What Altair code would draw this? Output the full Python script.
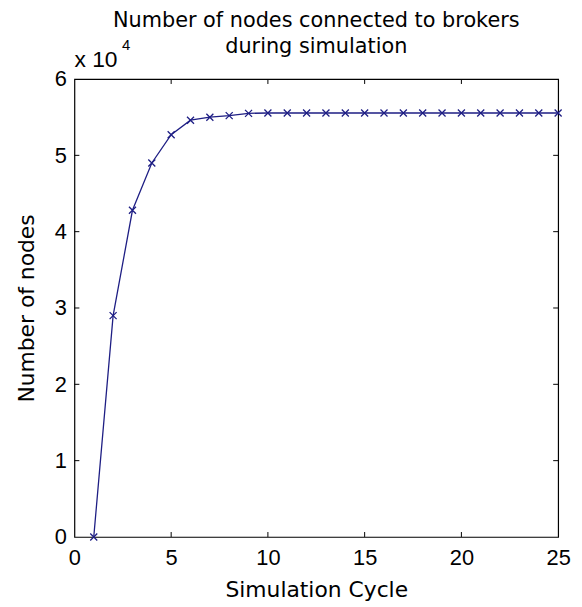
import altair as alt
import pandas as pd

cycles = list(range(1, 26))
nodes = [0, 29000, 42800, 49000, 52700, 54600, 55000, 55200, 55500, 55550,
         55550, 55550, 55550, 55550, 55550, 55550, 55550, 55550, 55550, 55550,
         55550, 55550, 55550, 55550, 55550]
x_ticks = [0, 5, 10, 15, 20, 25]
y_ticks = [0, 10000, 20000, 30000, 40000, 50000, 60000]
x_inner = [5, 10, 15, 20]
y_inner = [10000, 20000, 30000, 40000, 50000]

W, H = 488, 462
FONT = "Liberation Sans"
TFONT = "DejaVu Sans"
LINE = "#1e1e84"

df = pd.DataFrame({"cycle": cycles, "nodes": nodes})
xs = alt.Scale(domain=[0, 25], nice=False, zero=False)
ys = alt.Scale(domain=[0, 60000], nice=False)

xaxis = alt.Axis(values=x_ticks, ticks=False, domain=False, grid=False,
                 labelFont=FONT, labelFontSize=22, labelColor="black",
                 labelPadding=11, labelFlush=False,
                 title="Simulation Cycle", titleFont=TFONT, titleFontSize=22,
                 titleFontWeight="normal", titleColor="black",
                 titleX=W / 2, titleY=60, titleBaseline="alphabetic")
yaxis = alt.Axis(values=y_ticks, ticks=False, domain=False, grid=False,
                 labelExpr="datum.value / 10000",
                 labelFont=FONT, labelFontSize=22, labelColor="black",
                 labelPadding=8, labelFlush=False,
                 title="Number of nodes", titleFont=TFONT, titleFontSize=22,
                 titleFontWeight="normal", titleColor="black",
                 titleAngle=-90, titleX=-48, titleY=H / 2,
                 titleBaseline="middle", titleAlign="center")

line = alt.Chart(df).mark_line(color=LINE, strokeWidth=1.3).encode(
    x=alt.X("cycle:Q", scale=xs, axis=xaxis),
    y=alt.Y("nodes:Q", scale=ys, axis=yaxis),
)
pts = alt.Chart(df).mark_point(
    shape="M-1,-1L1,1M-1,1L1,-1", filled=False, color=LINE,
    strokeWidth=1.3, size=50, opacity=1
).encode(x=alt.X("cycle:Q", scale=xs), y=alt.Y("nodes:Q", scale=ys))

xt = pd.DataFrame({"v": x_inner})
yt = pd.DataFrame({"v": y_inner})
tb = alt.Chart(xt).mark_rule(color="black", strokeWidth=1).encode(
    x=alt.X("v:Q", scale=xs), y=alt.value(H), y2=alt.value(H - 5))
tt = alt.Chart(xt).mark_rule(color="black", strokeWidth=1).encode(
    x=alt.X("v:Q", scale=xs), y=alt.value(0), y2=alt.value(5))
tl = alt.Chart(yt).mark_rule(color="black", strokeWidth=1).encode(
    y=alt.Y("v:Q", scale=ys), x=alt.value(0), x2=alt.value(5))
tr = alt.Chart(yt).mark_rule(color="black", strokeWidth=1).encode(
    y=alt.Y("v:Q", scale=ys), x=alt.value(W), x2=alt.value(W - 5))

exp_base = alt.Chart(pd.DataFrame({"t": ["x 10"]})).mark_text(
    font=FONT, fontSize=23, align="left", baseline="alphabetic", color="black"
).encode(text="t:N", x=alt.value(0), y=alt.value(-12))
exp_pow = alt.Chart(pd.DataFrame({"t": ["4"]})).mark_text(
    font=FONT, fontSize=15, align="left", baseline="alphabetic", color="black"
).encode(text="t:N", x=alt.value(48), y=alt.value(-29))

chart = alt.layer(tb, tt, tl, tr, line, pts, exp_base, exp_pow).properties(
    width=W, height=H,
    title=alt.TitleParams(
        text=["Number of nodes connected to brokers", "during simulation"],
        font=TFONT, fontSize=21, fontWeight="normal", color="black",
        anchor="middle", offset=24, lineHeight=26, dy=43),
    autosize=alt.AutoSizeParams(type="none"),
    padding={"left": 67, "top": 69, "right": 16, "bottom": 68},
    background="white",
).configure_view(stroke="black", strokeWidth=1.2)

chart.save("out.html", embed_options={"renderer": "svg", "actions": False})
